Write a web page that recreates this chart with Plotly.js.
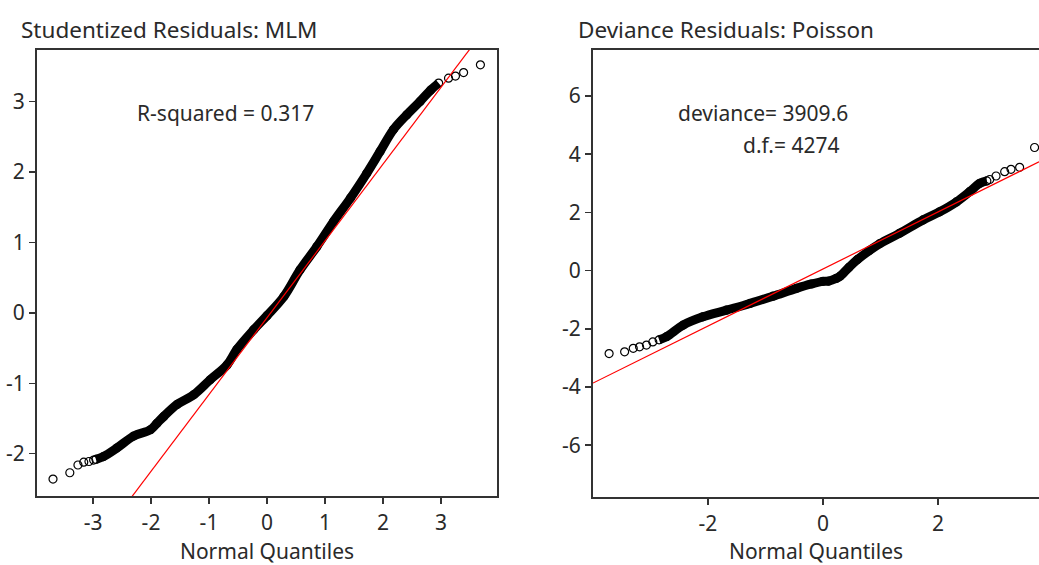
<!DOCTYPE html>
<html>
<head>
<meta charset="utf-8">
<script src="https://cdn.plot.ly/plotly-3.0.1.min.js"></script>
<style>html,body{margin:0;padding:0;background:#fff;}#chart{width:1039px;height:565px;}</style>
</head>
<body>
<div id="chart"></div>
<script>
// ---- Left panel: Studentized Residuals (MLM) ----
const mlmTailLowQ = [-3.69, -3.40, -3.26, -3.16, -3.07, -2.99];
const mlmTailLowR = [-2.36, -2.27, -2.16, -2.12, -2.11, -2.09];
const mlmBandQ = [-2.95, -2.82, -2.59, -2.30, -2.01, -1.90, -1.78, -1.55, -1.26, -0.98, -0.69, -0.52, -0.23, 0.00, 0.29, 0.57, 0.86, 1.15, 1.44, 1.72, 1.95, 2.18, 2.41, 2.64, 2.82, 2.96];
const mlmBandR = [-2.08, -2.04, -1.92, -1.75, -1.66, -1.57, -1.47, -1.30, -1.16, -0.95, -0.74, -0.52, -0.24, -0.04, 0.23, 0.61, 0.94, 1.30, 1.63, 1.98, 2.29, 2.60, 2.81, 3.00, 3.16, 3.26];
const mlmTailHighQ = [3.13, 3.25, 3.39, 3.68];
const mlmTailHighR = [3.33, 3.36, 3.41, 3.52];
const mlmFit = [-0.07, 1.09]; // intercept, slope of reference line
const mlmXTicks = [-3, -2, -1, 0, 1, 2, 3];
const mlmYTicks = [-2, -1, 0, 1, 2, 3];

// ---- Right panel: Deviance Residuals (Poisson) ----
const poiTailLowQ = [-3.72, -3.45, -3.30, -3.19, -3.07, -2.96];
const poiTailLowR = [-2.85, -2.79, -2.67, -2.62, -2.56, -2.45];
const poiBandQ = [-2.85, -2.72, -2.43, -2.09, -1.68, -1.27, -0.87, -0.46, -0.20, 0.00, 0.10, 0.23, 0.30, 0.45, 0.60, 0.80, 0.99, 1.33, 1.74, 2.03, 2.32, 2.55, 2.73, 2.85];
const poiBandR = [-2.38, -2.27, -1.87, -1.59, -1.36, -1.13, -0.88, -0.61, -0.46, -0.37, -0.36, -0.27, -0.19, 0.11, 0.38, 0.68, 0.93, 1.28, 1.74, 2.02, 2.36, 2.71, 3.00, 3.08];
const poiTailHighQ = [2.90, 3.01, 3.16, 3.27, 3.42, 3.68];
const poiTailHighR = [3.13, 3.25, 3.40, 3.48, 3.55, 4.23];
const poiFit = [0.055, 0.98];
const poiXTicks = [-2, 0, 2];
const poiYTicks = [-6, -4, -2, 0, 2, 4, 6];

const xRange1 = [-3.966, 3.966], yRange1 = [-2.6, 3.73];
const xRange2 = [-4.0, 3.757], yRange2 = [-7.78, 7.58];

const FONT = 'Noto Sans, Liberation Sans, Arial, sans-serif';
const TXT = '#2a2a2a';
const AX = '#333';

function fitLine(fit, xr, xa, ya) {
  return {x: xr, y: xr.map(v => fit[0] + fit[1] * v), xaxis: xa, yaxis: ya,
    mode: 'lines', line: {color: '#ff0000', width: 1.2}, hoverinfo: 'skip', showlegend: false};
}
function band(q, r, xa, ya) {
  return {x: q, y: r, xaxis: xa, yaxis: ya, mode: 'lines+markers',
    line: {color: '#000', width: 9, shape: 'spline', smoothing: 1},
    marker: {symbol: 'circle-open', size: 8, color: '#000', line: {width: 1.2}},
    showlegend: false};
}
function tail(q, r, xa, ya) {
  return {x: q, y: r, xaxis: xa, yaxis: ya, mode: 'markers',
    marker: {symbol: 'circle-open', size: 8, color: '#000', line: {width: 1.2}},
    showlegend: false};
}

const data = [
  band(mlmBandQ, mlmBandR, 'x', 'y'),
  tail(mlmTailLowQ, mlmTailLowR, 'x', 'y'),
  tail(mlmTailHighQ, mlmTailHighR, 'x', 'y'),
  fitLine(mlmFit, xRange1, 'x', 'y'),
  band(poiBandQ, poiBandR, 'x2', 'y2'),
  tail(poiTailLowQ, poiTailLowR, 'x2', 'y2'),
  tail(poiTailHighQ, poiTailHighR, 'x2', 'y2'),
  fitLine(poiFit, xRange2, 'x2', 'y2')
];

function xax(range, ticks, domain, anchor) {
  return {range: range, domain: domain, anchor: anchor, tickvals: ticks, ticktext: ticks.map(String),
    showgrid: false, zeroline: false, showline: true, mirror: true, linecolor: AX, linewidth: 2,
    ticks: 'outside', ticklen: 6, tickwidth: 1.5, tickcolor: AX, ticklabelstandoff: 1,
    tickfont: {family: FONT, size: 21, color: TXT},
    title: {text: 'Normal Quantiles', font: {family: FONT, size: 21, color: TXT}, standoff: 10}};
}
function yax(range, ticks, domain, anchor, mirror) {
  return {range: range, domain: domain, anchor: anchor, tickvals: ticks, ticktext: ticks.map(String),
    showgrid: false, zeroline: false, showline: true, mirror: mirror, linecolor: AX, linewidth: 2,
    ticks: 'outside', ticklen: 6, tickwidth: 1.5, tickcolor: AX,
    tickfont: {family: FONT, size: 21, color: TXT}};
}

const layout = {
  width: 1039, height: 565,
  margin: {l: 0, r: 0, t: 0, b: 0},
  paper_bgcolor: '#fff', plot_bgcolor: '#fff',
  showlegend: false,
  xaxis: xax(xRange1, mlmXTicks, [37/1039, 497/1039], 'y'),
  yaxis: yax(yRange1, mlmYTicks, [1 - 496/565, 1 - 50/565], 'x', true),
  xaxis2: xax(xRange2, poiXTicks, [593/1039, 1], 'y2'),
  yaxis2: yax(yRange2, poiYTicks, [1 - 497/565, 1 - 50/565], 'x2', false),
  annotations: [
    {text: 'Studentized Residuals: MLM', xref: 'paper', yref: 'paper', x: 19/1039, y: 1 - 30/565,
      xanchor: 'left', yanchor: 'middle', showarrow: false, font: {family: FONT, size: 22.5, color: TXT}},
    {text: 'Deviance Residuals: Poisson', xref: 'paper', yref: 'paper', x: 576/1039, y: 1 - 29/565,
      xanchor: 'left', yanchor: 'middle', showarrow: false, font: {family: FONT, size: 22.5, color: TXT}},
    {text: 'R-squared = 0.317', xref: 'x', yref: 'y', x: -0.71, y: 2.84,
      xanchor: 'center', yanchor: 'middle', showarrow: false, font: {family: FONT, size: 21, color: TXT}},
    {text: 'deviance= 3909.6', xref: 'x2', yref: 'y2', x: -1.04, y: 5.42,
      xanchor: 'center', yanchor: 'middle', showarrow: false, font: {family: FONT, size: 21, color: TXT}},
    {text: 'd.f.= 4274', xref: 'x2', yref: 'y2', x: -0.54, y: 4.32,
      xanchor: 'center', yanchor: 'middle', showarrow: false, font: {family: FONT, size: 21, color: TXT}}
  ]
};

Plotly.newPlot('chart', data, layout, {displayModeBar: false, staticPlot: true});
</script>
</body>
</html>
